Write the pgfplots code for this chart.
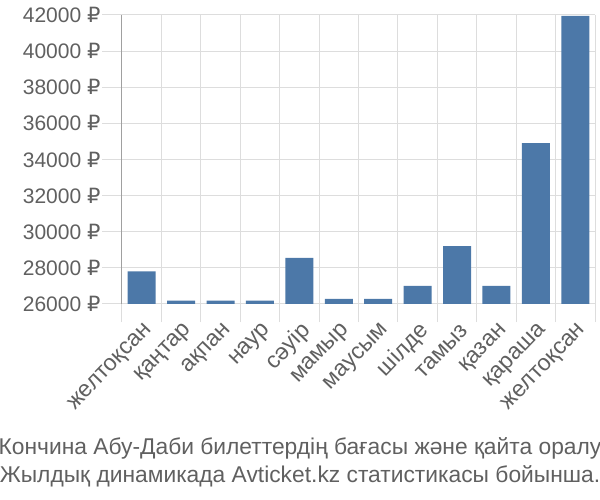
\documentclass[border=0pt]{standalone}
\usepackage{pgfplots}
\pgfplotsset{compat=1.18}
\usepackage{fontspec}
\setmainfont{Liberation Sans}
\newfontfamily\rub{DejaVu Sans}
\definecolor{barblue}{HTML}{4C78A8}
\definecolor{txt}{HTML}{606060}
\definecolor{gridc}{HTML}{DDDDDD}
\definecolor{axc}{HTML}{A0A0A0}
\begin{document}
\begin{tikzpicture}
\useasboundingbox (-122pt,-196pt) rectangle (478pt,304pt);
\begin{axis}[
  name=ax,
  at={(0pt,0pt)}, anchor=south west,
  scale only axis,
  width=473pt, height=289pt,
  xmin=-0.5, xmax=11.5,
  ymin=26000, ymax=42000,
  scaled y ticks=false,
  ytick={26000,28000,...,42000},
  /pgf/number format/assume math mode=true,
  yticklabel={\pgfmathprintnumber[1000 sep={},fixed,precision=0]{\tick}~{\rub ₽}},
  yticklabel style={font=\fontsize{21}{24}\selectfont, text=txt, xshift=2pt},
  xtick={0,...,11},
  xticklabels={желтоқсан,қаңтар,ақпан,наур,сәуір,мамыр,маусым,шілде,тамыз,қазан,қараша,желтоқсан},
  xticklabel style={font=\fontsize{23}{26}\selectfont, text=txt, rotate=46, anchor=east, inner sep=0pt, xshift=3pt, yshift=-8pt},
  minor xtick={-0.5,0.5,...,11.5},
  xminorgrids, ymajorgrids,
  grid style={draw=gridc, line width=1pt},
  minor grid style={draw=gridc, line width=1pt},
  major x tick style={draw=none},
  minor x tick style={draw=gridc, line width=1pt},
  major y tick style={draw=gridc, line width=1pt},
  tick align=outside,
  major tick length=20pt,
  minor tick length=18pt,
  axis x line*=bottom,
  axis y line*=left,
  x axis line style={draw=gridc, line width=1pt, -},
  y axis line style={draw=axc, line width=1pt, -},
  ybar, bar width=28pt,
  clip=true,
]
\addplot[fill=barblue, draw=none] coordinates {
(0,27800) (1,26180) (2,26180) (3,26180) (4,28550) (5,26280)
(6,26280) (7,27000) (8,29200) (9,27000) (10,34900) (11,41950)};
\end{axis}
\node[anchor=base, text=txt, font=\fontsize{22.8}{26}\selectfont, inner sep=0pt] at (178pt,-151pt) {Кончина Абу-Даби билеттердің бағасы және қайта оралу};
\node[anchor=base, text=txt, font=\fontsize{22.8}{26}\selectfont, inner sep=0pt] at (178pt,-179pt) {Жылдық динамикада Avticket.kz статистикасы бойынша.};
\end{tikzpicture}
\end{document}
